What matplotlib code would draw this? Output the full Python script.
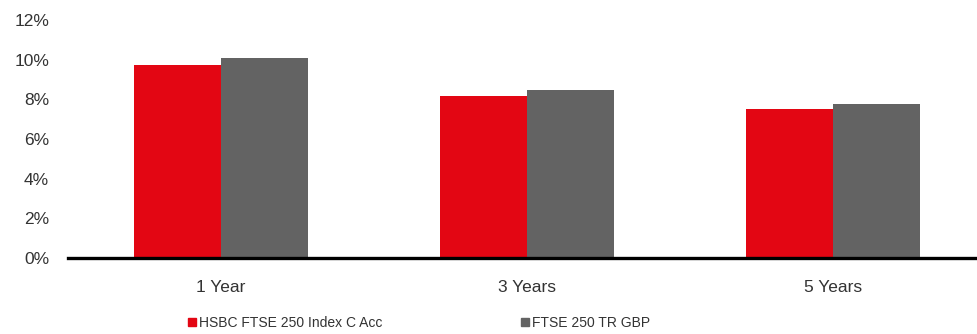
import matplotlib
matplotlib.use('Agg')
import matplotlib.pyplot as plt
import numpy as np
from matplotlib.patches import Patch

# Data
periods = ['1 Year', '3 Years', '5 Years']
fund = [9.75, 8.19, 7.49]
index = [10.1, 8.48, 7.75]
series_names = ['HSBC FTSE 250 Index C Acc', 'FTSE 250 TR GBP']
yticks = [0, 2, 4, 6, 8, 10, 12]

red = '#e30613'
grey = '#636363'
txt = '#333333'

plt.rcParams['font.family'] = ['Liberation Sans', 'DejaVu Sans']

fig = plt.figure(figsize=(9.78, 3.34), dpi=100)
ax = fig.add_axes([68/978, 76/334, 1 - 68/978, 238/334])

x = np.arange(len(periods))
w = 0.285
ax.bar(x - w/2, fund, w, color=red)
ax.bar(x + w/2, index, w, color=grey)

ax.set_xlim(-0.5, 2.474)
ax.set_ylim(0, 12)
ax.set_yticks(yticks)
ax.set_yticklabels([f'{v}%' for v in yticks])
ax.set_xticks(x)
ax.set_xticklabels(periods)
ax.tick_params(axis='both', length=0, labelsize=12.5, colors=txt)
ax.tick_params(axis='y', pad=13.5)
ax.tick_params(axis='x', pad=15.5)

for s in ['top', 'right', 'left']:
    ax.spines[s].set_visible(False)
ax.spines['bottom'].set_linewidth(2.4)
ax.spines['bottom'].set_color('black')

# two separate legend entries, placed where the reference has them
lx = [188/978, 521/978]
for i, (name, col) in enumerate(zip(series_names, [red, grey])):
    leg = fig.legend([Patch(color=col)], [name], loc='center left',
                     bbox_to_anchor=(lx[i], 11/334), frameon=False, fontsize=10,
                     handlelength=0.55, handleheight=0.55, handletextpad=0.22,
                     borderpad=0, borderaxespad=0, labelcolor=txt)

fig.savefig('out.png', dpi=100)
